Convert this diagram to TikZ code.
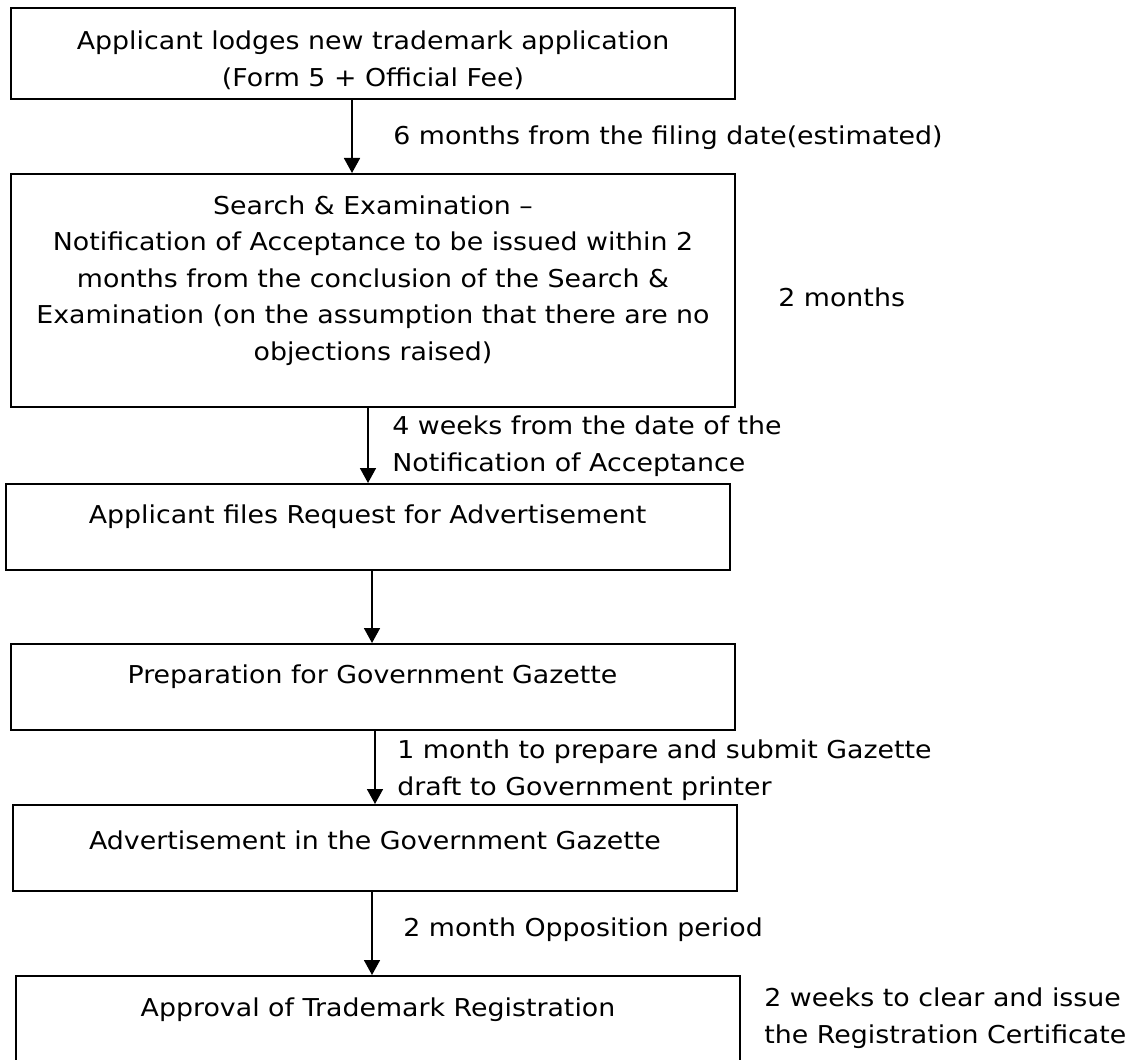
\documentclass[tikz,border=0pt]{standalone}
\usepackage{fontspec}
\setmainfont[FakeStretch=1.09]{DejaVu Sans}
\usetikzlibrary{arrows.meta}

\begin{document}
\begin{tikzpicture}[x=0.5pt,y=-0.5pt,
    box/.style={draw,line width=1pt,minimum width=362pt,minimum height=43pt,inner sep=0pt},
    txt/.style={align=center,inner sep=0pt},
    note/.style={anchor=west,align=left,inner sep=0pt},
    flow/.style={-{Triangle[width=8pt,length=7.5pt]},line width=0.85pt},
    every node/.append style={font=\fontsize{12.3pt}{18.3pt}\selectfont}]
  \fill[white] (0,0) rectangle (1138,1059);
  \useasboundingbox (0,0) rectangle (1138,1059);
  \clip (0,0) rectangle (1138,1059);
  %boxes
  \node[box,minimum height=45.5pt] (lodge) at (373,53.5) {};
  \node[box,minimum height=116.5pt] (search) at (373,290.5) {};
  \node[box] (request) at (367.5,527) {};
  \node[box] (prep) at (372.5,687) {};
  \node[box] (advert) at (375,848) {};
  \node[box] (approval) at (378,1019) {};
  %box texts
  \node[txt] (lodge-t) at (373,60) {Applicant lodges new trademark application\\(Form 5 + Official Fee)};
  \node[txt] (search-t) at (373,280.5) {Search \& Examination --\\Notification of Acceptance to be issued within 2\\months from the conclusion of the Search \&\\Examination (on the assumption that there are no\\objections raised)};
  \node[txt] (request-t) at (367.5,517) {Applicant files Request for Advertisement};
  \node[txt] (prep-t) at (372.5,677) {Preparation for Government Gazette};
  \node[txt] (advert-t) at (375,840) {Advertisement in the Government Gazette};
  \node[txt] (approval-t) at (378,1010) {Approval of Trademark Registration};
  %arrows
  \draw[flow] (lodge.south -| 352,0) -- (search.north -| 352,0);
  \draw[flow] (search.south -| 368,0) -- (request.north -| 368,0);
  \draw[flow] (request.south -| 372,0) -- (prep.north -| 372,0);
  \draw[flow] (prep.south -| 375,0) -- (advert.north -| 375,0);
  \draw[flow] (advert.south -| 372,0) -- (approval.north -| 372,0);
  %time notes
  \node[note] (six) at (393,138) {6 months from the filing date(estimated)};
  \node[note] (twomonths) at (778,297) {2 months};
  \node[note] (fourweeks) at (392,446.5) {4 weeks from the date of the\\Notification of Acceptance};
  \node[note] (onemonth) at (397,770) {1 month to prepare and submit Gazette\\draft to Government printer};
  \node[note] (opposition) at (403,930) {2 month Opposition period};
  \node[note] (twoweeks) at (764,1018) {2 weeks to clear and issue\\the Registration Certificate};
\end{tikzpicture}
\end{document}
